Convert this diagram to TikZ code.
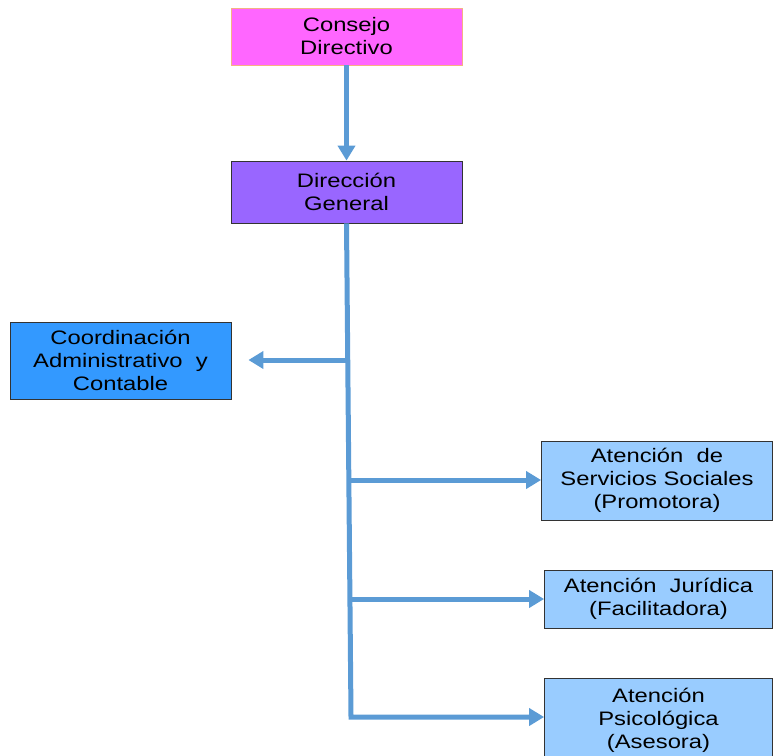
\documentclass[tikz,border=0pt]{standalone}
\usepackage{fontspec}
\setmainfont{Liberation Sans}[FakeStretch=1.22]
\usetikzlibrary{arrows.meta}
\definecolor{consejofill}{HTML}{FF66FF}
\definecolor{consejoline}{HTML}{F4B183}
\definecolor{direccionfill}{HTML}{9966FF}
\definecolor{coordfill}{HTML}{3399FF}
\definecolor{atencionfill}{HTML}{99CCFF}
\definecolor{linkblue}{HTML}{5B9BD5}
\begin{document}
\begin{tikzpicture}[x=1pt,y=-1pt,
  box/.style={draw=black!80, line width=0.8pt, align=center, inner sep=0pt,
    font=\fontsize{19.5}{23}\selectfont, text=black},
  link/.style={draw=linkblue, line width=5pt, line join=miter},
  tip/.style={link, -{Triangle[length=15pt,width=17pt]}}]
\useasboundingbox (0,0) rectangle (773,755);

% Boxes
\node[box, fill=consejofill, draw=consejoline, minimum width=231pt, minimum height=57pt]
  (cd) at (346.5,36.5) {Consejo\\Directivo};
\node[box, fill=direccionfill, minimum width=231pt, minimum height=62pt]
  (dg) at (346.5,192) {Dirección\\General};
\node[box, fill=coordfill, minimum width=221pt, minimum height=77pt]
  (co) at (120.5,360.5) {Coordinación\\Administrativo\ \ y\\Contable};
\node[box, fill=atencionfill, minimum width=231pt, minimum height=79pt]
  (sv) at (657,480.5) {Atención\ \ de\\Servicios Sociales\\(Promotora)};
\node[box, fill=atencionfill, minimum width=228pt, minimum height=58pt]
  (ju) at (658.5,599) {Atención\ \ Jurídica\\(Facilitadora)};
\node[box, fill=atencionfill, minimum width=228pt, minimum height=84pt]
  (ps) at (658.5,720) {Atención\\Psicológica\\(Asesora)};

% Trunk
\coordinate (j1) at (346,360);
\coordinate (j2) at (349.5,480);
\coordinate (j3) at (350,599);
\coordinate (bot) at (351,717);

\draw[tip] (cd.south) -- (dg.north);
\draw[tip] (dg.south) -- (bot) -- (bot -| ps.west);
\draw[tip, shorten >=17pt] (j1) -- (j1 -| co.east);
\draw[tip] (j2) -- (j2 -| sv.west);
\draw[tip] (j3) -- (j3 -| ju.west);
\end{tikzpicture}
\end{document}
